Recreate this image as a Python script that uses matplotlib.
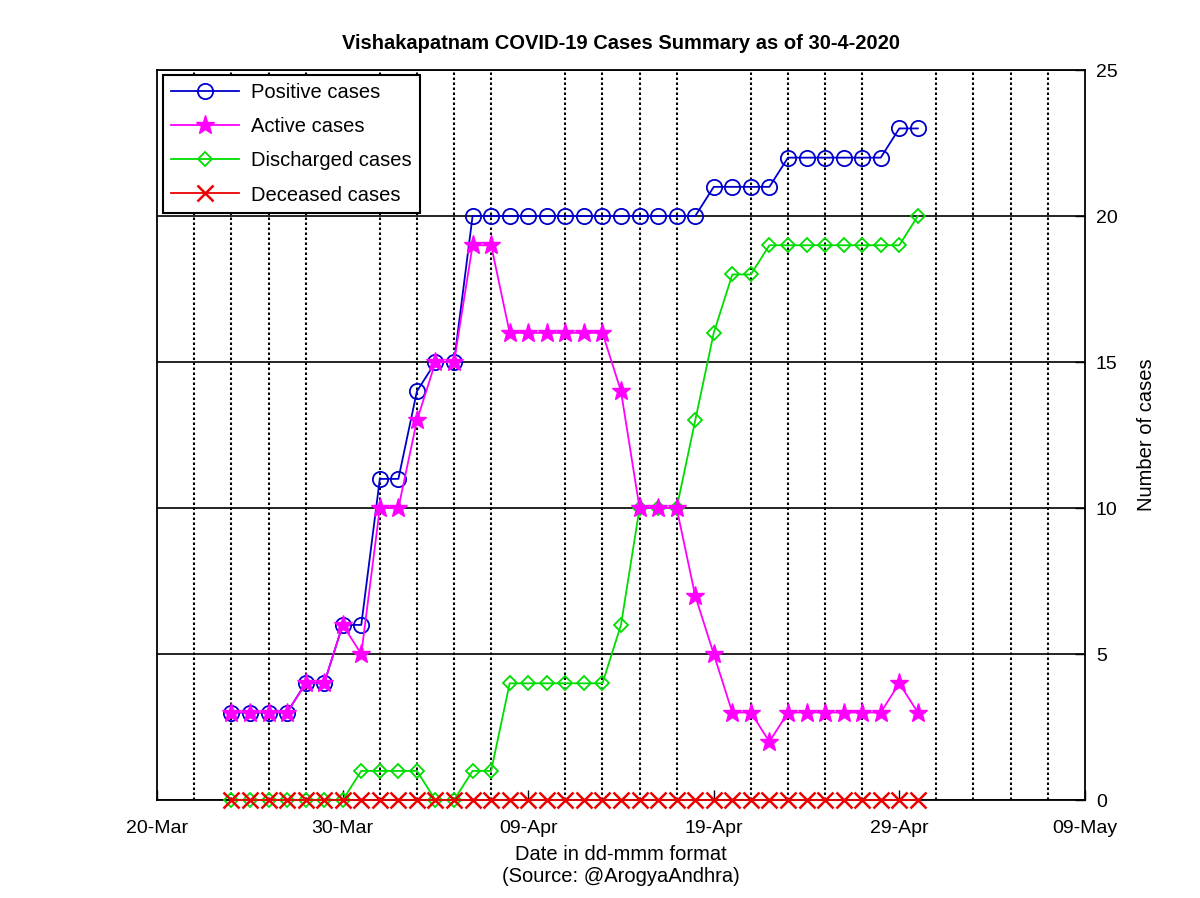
import numpy as np
import matplotlib
matplotlib.use('Agg')
import matplotlib.pyplot as plt
import matplotlib.dates as mdates
import matplotlib.ticker as mticker
import datetime as dt

# data: 24-Mar-2020 .. 30-Apr-2020
start = dt.date(2020, 3, 24)
dates = [start + dt.timedelta(days=i) for i in range(38)]
positive = [3, 3, 3, 3, 4, 4, 6, 6, 11, 11, 14, 15, 15, 20, 20, 20, 20, 20, 20, 20,
            20, 20, 20, 20, 20, 20, 21, 21, 21, 21, 22, 22, 22, 22, 22, 22, 23, 23]
active = [3, 3, 3, 3, 4, 4, 6, 5, 10, 10, 13, 15, 15, 19, 19, 16, 16, 16, 16, 16,
          16, 14, 10, 10, 10, 7, 5, 3, 3, 2, 3, 3, 3, 3, 3, 3, 4, 3]
discharged = [0, 0, 0, 0, 0, 0, 0, 1, 1, 1, 1, 0, 0, 1, 1, 4, 4, 4, 4, 4,
              4, 6, 10, 10, 10, 13, 16, 18, 18, 19, 19, 19, 19, 19, 19, 19, 19, 20]
deceased = [0] * 38

plt.rcParams['font.family'] = ['Liberation Sans', 'DejaVu Sans']

fig = plt.figure(figsize=(12, 8.98), dpi=100)
ax = fig.add_axes([0.131, 0.109, 0.773, 0.813])

ax.plot(dates, positive, color='#0000cc', marker='o', markersize=11, mfc='none',
        mew=1.3, lw=1.3, label='Positive cases', zorder=3, clip_on=False)
ax.plot(dates, active, color='#ff00ff', marker='*', markersize=14, lw=1.3,
        label='Active cases', zorder=4, clip_on=False)
ax.plot(dates, discharged, color='#00dd00', marker='D', markersize=7.5, mfc='none',
        mew=1.3, lw=1.3, label='Discharged cases', zorder=3, clip_on=False)
ax.plot(dates, deceased, color='#ee0000', marker='x', markersize=11, mew=1.8,
        lw=1.3, label='Deceased cases', zorder=5, clip_on=False)

x0 = dt.date(2020, 3, 20)
ax.set_xlim(x0, dt.date(2020, 5, 9))
ax.set_ylim(0, 25)
ax.xaxis.set_major_locator(mticker.FixedLocator(mdates.date2num(
    [x0 + dt.timedelta(days=10 * k) for k in range(6)])))
ax.xaxis.set_major_formatter(mdates.DateFormatter('%d-%b'))
ax.xaxis.set_minor_locator(mticker.FixedLocator(mdates.date2num(
    [x0 + dt.timedelta(days=2 * k) for k in range(26)])))
ax.set_yticks([0, 5, 10, 15, 20, 25])

ax.grid(which='major', axis='y', color='black', lw=1.2, ls='-')
ax.grid(which='minor', axis='x', color='black', lw=1.5, ls=(0, (1.2, 1.2)))
ax.set_axisbelow(True)

ax.yaxis.tick_right()
ax.yaxis.set_label_position('right')
ax.tick_params(which='both', direction='in', labelsize=14, length=7, width=1)
ax.tick_params(axis='x', pad=14)
ax.tick_params(axis='y', pad=8)
ax.tick_params(which='minor', length=0)
for s in ax.spines.values():
    s.set_linewidth(1.3)

ax.set_title('Vishakapatnam COVID-19 Cases Summary as of 30-4-2020',
             fontsize=14.5, fontweight='bold', pad=15)
ax.set_xlabel('Date in dd-mmm format\n(Source: @ArogyaAndhra)', fontsize=14.5,
              labelpad=6, linespacing=1.2)
ax.set_ylabel('Number of cases', fontsize=14.5, labelpad=14)

leg = ax.legend(loc='upper left', fontsize=14.5, fancybox=False, framealpha=1,
                edgecolor='black', borderpad=0.4, handlelength=3.4,
                labelspacing=0.75, handletextpad=0.6, borderaxespad=0,
                bbox_to_anchor=(0.006, 0.993))
leg.get_frame().set_linewidth(1.5)

fig.savefig('out.png', dpi=100)
